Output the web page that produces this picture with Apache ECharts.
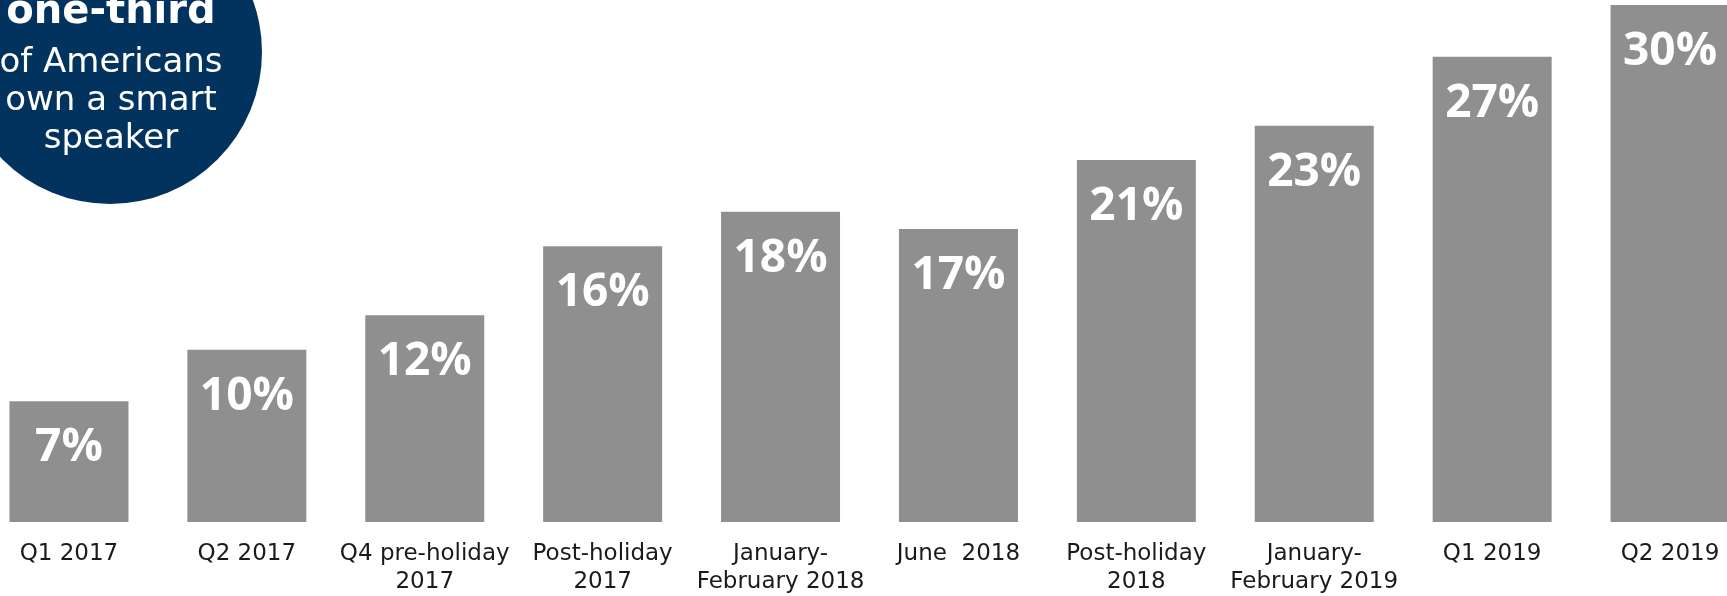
<!DOCTYPE html>
<html lang="en">
<head>
    <meta charset="UTF-8">
    <title>Smart speaker ownership</title>
    <style>
        html, body { margin: 0; padding: 0; background: #fff; overflow: hidden; }
        /* chart is wider than the window: the outer bars are clipped at both edges */
        #chart { width: 1779px; height: 596px; margin-left: -20px; }
    </style>
</head>
<body>
<div id="chart"></div>
<script src="https://cdn.jsdelivr.net/npm/echarts@6/dist/echarts.min.js"></script>
<script>
    // categories along the bottom
    var categories = [
        'Q1 2017',
        'Q2 2017',
        'Q4 pre-holiday\n2017',
        'Post-holiday\n2017',
        'January-\nFebruary 2018',
        'June  2018',
        'Post-holiday\n2018',
        'January-\nFebruary 2019',
        'Q1 2019',
        'Q2 2019'
    ]
    // share of Americans owning a smart speaker (%)
    var ownership = [7, 10, 12, 16, 18, 17, 21, 23, 27, 30]

    var font = '"DejaVu Sans", sans-serif'
    var offsetX = 20 // chart div is shifted left by this much

    var chart = echarts.init(document.getElementById('chart'))
    chart.setOption({
        animation: false,
        grid: {
            left: 0,
            right: 0,
            top: 5,
            bottom: 73
        },
        xAxis: {
            type: 'category',
            data: categories,
            axisLine: { show: false },
            axisTick: { show: false },
            axisLabel: {
                interval: 0,
                margin: 18,
                fontFamily: font,
                fontSize: 23,
                lineHeight: 28,
                color: '#1a1a1a'
            }
        },
        yAxis: {
            type: 'value',
            min: 0,
            max: 30,
            show: false,
            splitLine: { show: false }
        },
        series: [
            {
                type: 'bar',
                data: ownership,
                barWidth: 119,
                itemStyle: { color: '#8f8f8f' },
                label: {
                    show: true,
                    position: 'insideTop',
                    distance: 24,
                    formatter: '{c}%',
                    fontFamily: '"Open Sans", sans-serif',
                    fontWeight: 'bold',
                    fontSize: 46,
                    color: '#fff'
                }
            }
        ],
        graphic: [
            {
                type: 'circle',
                shape: { cx: 110 + offsetX, cy: 52, r: 152 },
                style: { fill: '#02335f' },
                z: 10
            },
            {
                type: 'text',
                x: 111 + offsetX,
                y: 13,
                style: {
                    text: 'one-third',
                    fill: '#fff',
                    font: 'bold 40px ' + font,
                    align: 'center',
                    verticalAlign: 'middle'
                },
                z: 11
            },
            {
                type: 'text',
                x: 111 + offsetX,
                y: 101,
                style: {
                    text: 'of Americans\nown a smart\nspeaker',
                    fill: '#fff',
                    fontFamily: font,
                    fontSize: 34,
                    lineHeight: 38,
                    align: 'center',
                    verticalAlign: 'middle'
                },
                z: 11
            }
        ]
    })
</script>
</body>
</html>
